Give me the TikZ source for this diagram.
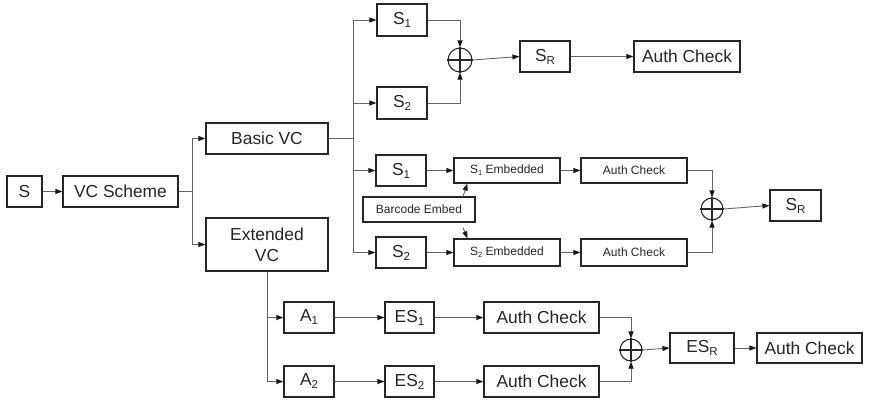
\documentclass[tikz,border=0pt]{standalone}
\usepackage{fontspec}
\setmainfont{Liberation Sans}
\usetikzlibrary{arrows.meta,calc}
\newcommand\lsub[1]{\raisebox{-3pt}{\fontsize{11.5}{12}\selectfont #1}}
\newcommand\ssub[1]{\raisebox{-2pt}{\fontsize{7.5}{8}\selectfont #1}}
\begin{document}
\begin{tikzpicture}[x=1pt,y=-1pt,
  box/.style={draw=black!85, line width=1.2pt, inner sep=0pt, text=black!85,
    font=\fontsize{17.4}{21}\selectfont, align=center},
  sbox/.style={box, font=\fontsize{12}{14}\selectfont},
  oplus/.style={draw=black!85, line width=1.1pt, circle, inner sep=0pt},
  conn/.style={draw=black!60, line width=0.9pt},
  arr/.style={conn, -{Triangle[length=7pt,width=5pt,color=black!90]}}]
\useasboundingbox (0,0) rectangle (870,400);

% left part
\node[box, minimum width=35pt, minimum height=31pt] (s) at (24.5,191.5) {S};
\node[box, minimum width=115pt, minimum height=31pt] (vcs) at (120.5,191.5) {VC Scheme};
\node[box, minimum width=122pt, minimum height=31pt] (bvc) at (267,138.5) {Basic VC};
\node[box, minimum width=122pt, minimum height=53pt] (evc) at (267,244.5) {Extended\\VC};

% top branch
\node[box, minimum width=50pt, minimum height=32pt] (s1t) at (402,20) {S\lsub{1}};
\node[box, minimum width=50pt, minimum height=32pt] (s2t) at (402,103) {S\lsub{2}};
\node[oplus, minimum size=24pt] (o1) at (460,60) {};
\node[box, minimum width=50pt, minimum height=31pt] (srt) at (545,56.5) {S\lsub{R}};
\node[box, minimum width=106pt, minimum height=31pt] (act) at (687,56.5) {Auth Check};

% middle branch
\node[box, minimum width=50pt, minimum height=31pt] (s1m) at (401,170.5) {S\lsub{1}};
\node[sbox, minimum width=106pt, minimum height=25pt] (s1e) at (507,170.5) {S\ssub{1} Embedded};
\node[sbox, minimum width=106pt, minimum height=25pt] (ac1) at (634,170.5) {Auth Check};
\node[sbox, minimum width=112pt, minimum height=25pt] (bar) at (419,209.5) {Barcode Embed};
\node[box, minimum width=50pt, minimum height=31pt] (s2m) at (401,252.5) {S\lsub{2}};
\node[sbox, minimum width=106pt, minimum height=27pt] (s2e) at (507,252.5) {S\ssub{2} Embedded};
\node[sbox, minimum width=106pt, minimum height=27pt] (ac2) at (634,252.5) {Auth Check};
\node[oplus, minimum size=22pt] (o2) at (712,209) {};
\node[box, minimum width=51pt, minimum height=31pt] (srm) at (795.5,205.5) {S\lsub{R}};

% bottom branch
\node[box, minimum width=50pt, minimum height=31pt] (a1) at (309,317.5) {A\lsub{1}};
\node[box, minimum width=50pt, minimum height=31pt] (a2) at (309,381.5) {A\lsub{2}};
\node[box, minimum width=49pt, minimum height=31pt] (es1) at (409.5,317.5) {ES\lsub{1}};
\node[box, minimum width=49pt, minimum height=31pt] (es2) at (409.5,381.5) {ES\lsub{2}};
\node[box, minimum width=115pt, minimum height=31pt] (acb1) at (541.5,317.5) {Auth Check};
\node[box, minimum width=115pt, minimum height=31pt] (acb2) at (541.5,381.5) {Auth Check};
\node[oplus, minimum size=22pt] (o3) at (631,350) {};
\node[box, minimum width=64pt, minimum height=30pt] (esr) at (702,348) {ES\lsub{R}};
\node[box, minimum width=105pt, minimum height=30pt] (acf) at (809.5,348) {Auth Check};

% plus signs
\foreach \o in {o1,o2,o3}{
  \draw[draw=black!85, line width=1.1pt] (\o.north) -- (\o.south) (\o.west) -- (\o.east);
}

% connectors: left
\draw[arr] (s) -- (vcs);
\coordinate (j1) at ($(vcs.east)+(14,0)$);
\draw[conn] (vcs.east) -- (j1);
\draw[arr] (j1) |- (bvc.west);
\draw[arr] (j1) |- (evc.west);

% basic VC fan-out
\coordinate (j2) at ($(bvc.east)+(25,0)$);
\draw[conn] (bvc.east) -- (j2);
\draw[arr] (j2) |- (s1t.west);
\draw[arr] (j2) |- (s2t.west);
\draw[arr] (j2) |- (s1m.west);
\draw[arr] (j2) |- (s2m.west);

% top
\draw[arr] (s1t.east) -| (o1.north);
\draw[arr] (s2t.east) -| (o1.south);
\draw[arr] (o1.east) -- (srt.west);
\draw[arr] (srt.east) -- (act.west);

% middle
\draw[arr] (s1m.east) -- (s1e.west);
\draw[arr] (s1e.east) -- (ac1.west);
\draw[arr] (s2m.east) -- (s2e.west);
\draw[arr] (s2e.east) -- (ac2.west);
\draw[arr] ($(bar.north)+(44,0)$) -- ($(s1e.south west)+(14,0)$);
\draw[arr] ($(bar.south)+(44,5)$) -- ($(s2e.north west)+(14,0)$);
\draw[arr] (ac1.east) -| (o2.north);
\draw[arr] (ac2.east) -| (o2.south);
\draw[arr] (o2.east) -- (srm.west);

% bottom
\draw[arr] (evc.south) |- (a1.west);
\draw[arr] (evc.south) |- (a2.west);
\draw[arr] (a1) -- (es1);
\draw[arr] (a2) -- (es2);
\draw[arr] (es1) -- (acb1);
\draw[arr] (es2) -- (acb2);
\draw[arr] (acb1.east) -| (o3.north);
\draw[arr] (acb2.east) -| (o3.south);
\draw[arr] (o3.east) -- (esr.west);
\draw[arr] (esr) -- (acf);
\end{tikzpicture}
\end{document}
